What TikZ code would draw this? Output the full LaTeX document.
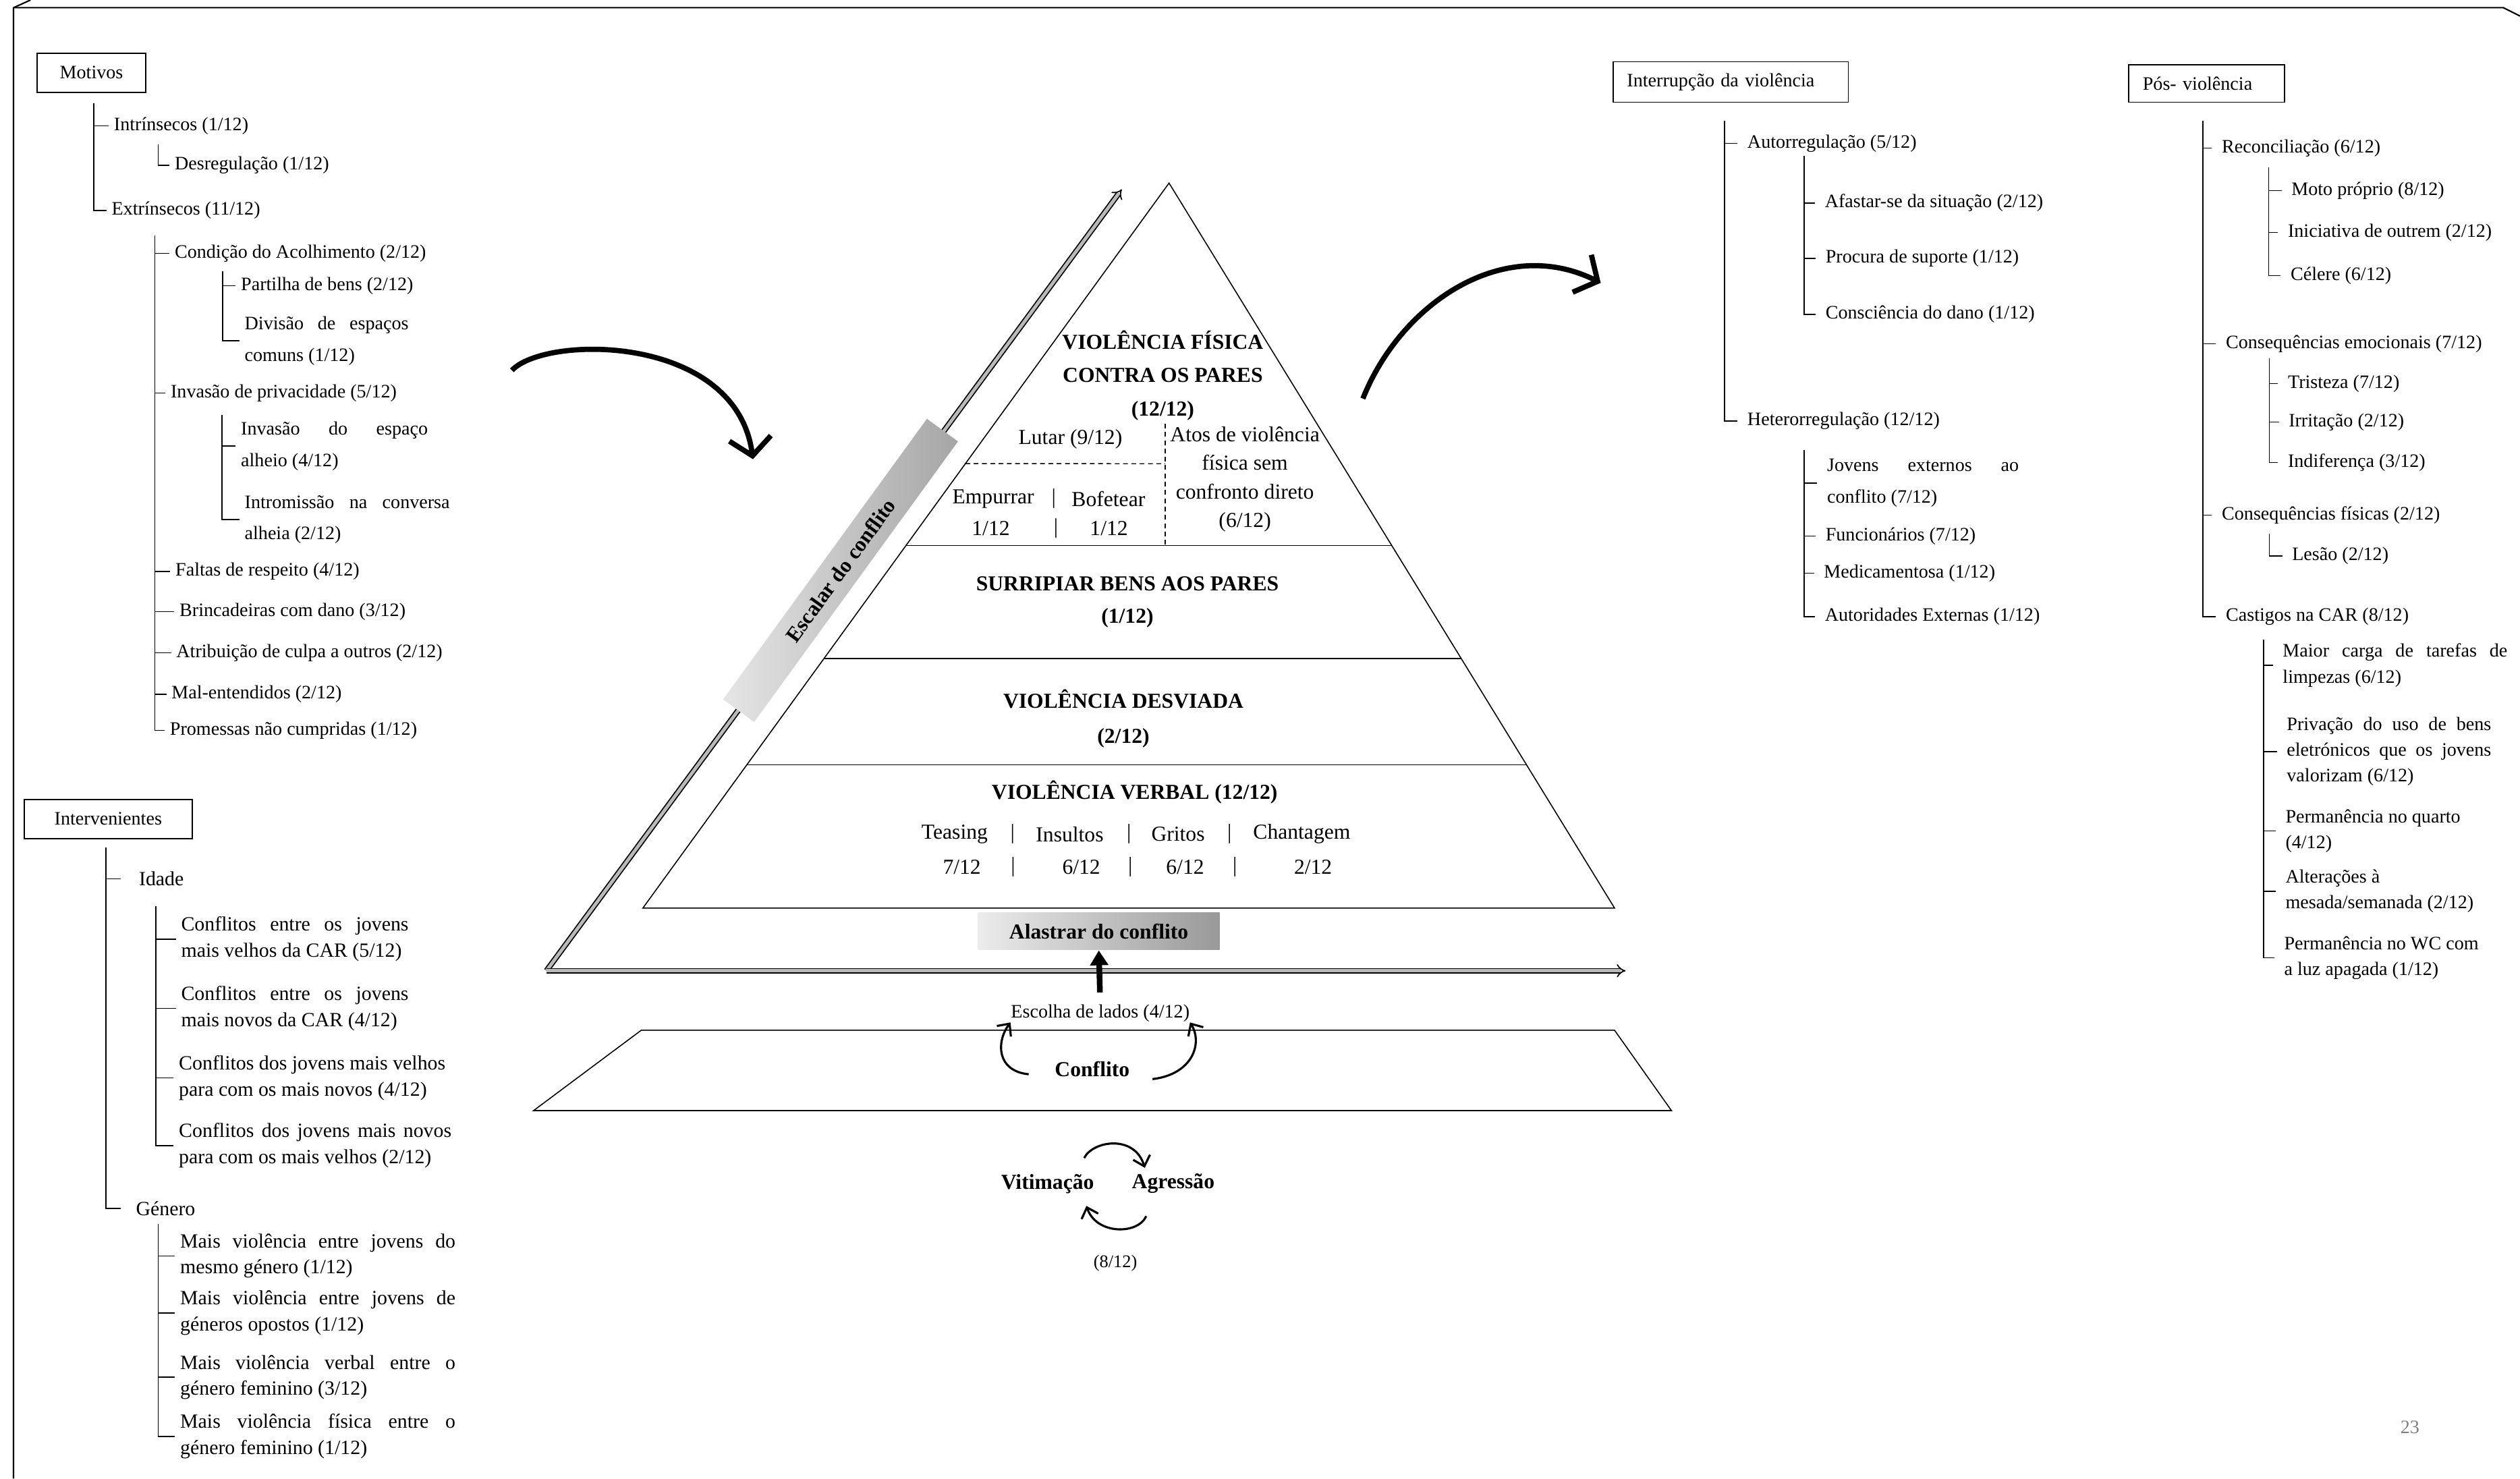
\documentclass[tikz,border=0pt]{standalone}
\usepackage{fontspec}
\setmainfont{Liberation Serif}
\usetikzlibrary{arrows.meta,calc}

\newcommand{\lignej}[2]{\makebox[#1][s]{#2}}

\tikzset{
  cadre/.style={draw, line width=0.5pt, inner ysep=0pt, font=\fontsize{8}{10}\selectfont},
  ramo/.style={line width=0.4pt},
  item/.style={anchor=west, align=left, inner xsep=2pt, inner ysep=0pt,
    font=\fontsize{8}{13.3}\selectfont},
  itemI/.style={item, font=\fontsize{8.5}{11}\selectfont},
  itemD/.style={item, inner xsep=4pt},
  itemC/.style={itemD, font=\fontsize{8}{10.9}\selectfont},
  pyr/.style={align=center, inner sep=0pt, font=\fontsize{9}{12}\selectfont},
  pyrgras/.style={align=center, inner sep=0pt, font=\fontsize{9}{14.1}\selectfont\bfseries},
  ligne/.style={line width=0.45pt},
  pointille/.style={line width=0.4pt, dash pattern=on 2pt off 1.5pt},
  fleche/.style={line width=0.5pt, double=gray!55, double distance=1.4pt, -{Implies}},
  courbe/.style={line width=2.2pt, -{Straight Barb[length=2.6mm,width=6.2mm]}},
  boucle/.style={line width=0.9pt, -{Straight Barb[length=1.4mm,width=2.6mm]}},
  montee/.style={line width=2.4pt, -{Triangle[length=2.2mm,width=2.6mm]}},
  barre/.style={inner sep=0pt, left color=gray!20, right color=gray!70,
    font=\fontsize{9}{11}\selectfont\bfseries},
}

\begin{document}
\begin{tikzpicture}[x=0.2382mm, y=-0.2382mm]
\useasboundingbox (0,0) rectangle (1568,920);

% bordure de la page
\draw[line width=0.6pt] (19,0) -- (8.4,4.8) -- (8.4,920);
\draw[line width=0.6pt] (8.4,4.8) -- (1557.6,4.8) -- (1568,10);

% arbre des motivos
\node[cadre, minimum width=16.1mm, minimum height=5.8mm] (motivos) at (56.9,45.2) {Motivos};
\coordinate (m1) at (58.3,64.3);
\coordinate (m2) at (98.4,90);
\coordinate (m3) at (96.4,146.4);
\coordinate (m4) at (138.6,168.9);
\coordinate (m5) at (138.2,258.2);
\node[item] (intr) at (67.7,78.3) {Intrínsecos (1/12)};
\node[item] (desr) at (105.5,102.9) {Desregulação (1/12)};
\node[item] (extr) at (66.3,131) {Extrínsecos (11/12)};
\node[item] (acol) at (105.5,157.6) {Condição do Acolhimento (2/12)};
\node[item] (part) at (146.7,177.7) {Partilha de bens (2/12)};
\node[item] (divi) at (149,212) {\lignej{24.3mm}{Divisão de espaços}\\comuns (1/12)};
\node[item] (priv) at (103,244.5) {Invasão de privacidade (5/12)};
\node[item] (espa) at (146.7,277.5) {\lignej{27.7mm}{Invasão do espaço}\\alheio (4/12)};
\node[item] (intm) at (149,323.3) {\lignej{30.4mm}{Intromissão na conversa}\\alheia (2/12)};
\node[item] (falt) at (106,355.6) {Faltas de respeito (4/12)};
\node[item] (brin) at (108.5,380.5) {Brincadeiras com dano (3/12)};
\node[item] (culp) at (106.5,406.2) {Atribuição de culpa a outros (2/12)};
\node[item] (malt) at (103.5,432) {Mal-entendidos (2/12)};
\node[item] (prom) at (102.5,454.5) {Promessas não cumpridas (1/12)};
\draw[ramo] (m1 |- intr.west) -- (intr.west);
\draw[ramo] (m1) |- (extr.west);
\draw[ramo] (m2) |- (desr.west);
\foreach \n in {acol,priv,falt,brin,culp,malt}
  \draw[ramo] (m3 |- \n.west) -- (\n.west);
\draw[ramo] (m3) |- (prom.west);
\draw[ramo] (m4 |- part.west) -- (part.west);
\draw[ramo] (m4) |- (divi.west);
\draw[ramo] (m5 |- espa.west) -- (espa.west);
\draw[ramo] (m5) |- (intm.west);

% arbre des intervenientes
\node[cadre, minimum width=24.9mm, minimum height=5.8mm] (interv) at (67.3,509.5) {Intervenientes};
\coordinate (t1) at (65.9,527.4);
\coordinate (t2) at (97,563.6);
\coordinate (t3) at (98.4,761.5);
\node[itemI, inner xsep=7.4pt] (idade) at (75.3,546.9) {Idade};
\node[itemI, inner xsep=6.1pt] (genero) at (75.3,751.8) {Género};
\node[itemI] (velh) at (109.5,584.3) {\lignej{33.7mm}{Conflitos entre os jovens}\\mais velhos da CAR (5/12)};
\node[itemI] (novo) at (109.5,627.5) {\lignej{33.7mm}{Conflitos entre os jovens}\\mais novos da CAR (4/12)};
\node[itemI] (vnov) at (108.1,670.7) {Conflitos dos jovens mais velhos\\para com os mais novos (4/12)};
\node[itemI] (nvel) at (108.1,712.8) {\lignej{40.4mm}{Conflitos dos jovens mais novos}\\para com os mais velhos (2/12)};
\node[itemI] (mesm) at (108.9,781.4) {\lignej{40.8mm}{Mais violência entre jovens do}\\mesmo género (1/12)};
\node[itemI] (opos) at (108.9,817) {\lignej{40.8mm}{Mais violência entre jovens de}\\géneros opostos (1/12)};
\node[itemI] (verb) at (108.9,856.9) {\lignej{40.8mm}{Mais violência verbal entre o}\\género feminino (3/12)};
\node[itemI] (fisi) at (108.9,893.7) {\lignej{40.8mm}{Mais violência física entre o}\\género feminino (1/12)};
\draw[ramo] (t1 |- idade.west) -- (idade.west);
\draw[ramo] (t1) |- (genero.west);
\foreach \n in {velh,novo,vnov}
  \draw[ramo] (t2 |- \n.west) -- (\n.west);
\draw[ramo] (t2) |- (nvel.west);
\foreach \n in {mesm,opos,verb}
  \draw[ramo] (t3 |- \n.west) -- (\n.west);
\draw[ramo] (t3) |- (fisi.west);

% arbre interruption
\node[cadre, text width=30.75mm, inner xsep=2.05mm, minimum height=6mm, align=left] (interr) at (1076.9,51) {Interrupção da violência};
\coordinate (r1) at (1073,75.2);
\coordinate (r2) at (1122.6,96.9);
\coordinate (r3) at (1122.6,280);
\node[itemD] (auto) at (1081.1,89.2) {Autorregulação (5/12)};
\node[itemD] (hete) at (1081.1,262) {Heterorregulação (12/12)};
\node[itemD] (afas) at (1129.3,126.3) {Afastar-se da situação (2/12)};
\node[itemD] (supo) at (1129.7,160.8) {Procura de suporte (1/12)};
\node[itemD] (dano) at (1129.7,195.7) {Consciência do dano (1/12)};
\node[itemD] (jove) at (1130.7,300.5) {\lignej{28.4mm}{Jovens externos ao}\\conflito (7/12)};
\node[itemD] (func) at (1129.7,333.5) {Funcionários (7/12)};
\node[itemD] (medi) at (1128.7,356.7) {Medicamentosa (1/12)};
\node[itemD] (exte) at (1129.3,383.7) {Autoridades Externas (1/12)};
\draw[ramo] (r1 |- auto.west) -- (auto.west);
\draw[ramo] (r1) |- (hete.west);
\foreach \n in {afas,supo}
  \draw[ramo] (r2 |- \n.west) -- (\n.west);
\draw[ramo] (r2) |- (dano.west);
\foreach \n in {jove,func,medi}
  \draw[ramo] (r3 |- \n.west) -- (\n.west);
\draw[ramo] (r3) |- (exte.west);

% arbre post-violence
\node[cadre, text width=18.9mm, inner xsep=2.1mm, minimum height=5.55mm, align=left] (posv) at (1372.9,52) {Pós- violência};
\coordinate (p1) at (1370.6,75.2);
\coordinate (p2) at (1411.6,104.2);
\coordinate (p3) at (1411.9,223);
\coordinate (p4) at (1411.9,331.9);
\coordinate (p5) at (1408.5,397.9);
\node[itemD] (reco) at (1376.3,92.1) {Reconciliação (6/12)};
\node[itemD] (emoc) at (1378.8,213.8) {Consequências emocionais (7/12)};
\node[itemD] (fisc) at (1376.3,320.6) {Consequências físicas (2/12)};
\node[itemD] (cast) at (1378.8,383.7) {Castigos na CAR (8/12)};
\node[itemD] (moto) at (1419.6,118.6) {Moto próprio (8/12)};
\node[itemD] (inic) at (1417.4,144.6) {Iniciativa de outrem (2/12)};
\node[itemD] (cele) at (1419.1,171.6) {Célere (6/12)};
\node[itemD] (tris) at (1417.4,238.6) {Tristeza (7/12)};
\node[itemD] (irri) at (1417.9,262.7) {Irritação (2/12)};
\node[itemD] (indi) at (1417.4,287.8) {Indiferença (3/12)};
\node[itemD] (lesa) at (1420,345.9) {Lesão (2/12)};
\node[itemC] (limp) at (1414.2,414) {\lignej{33.3mm}{Maior carga de tarefas de}\\limpezas (6/12)};
\node[itemC] (bens) at (1416.7,467.6) {\lignej{30.3mm}{Privação do uso de bens}\\\lignej{30.3mm}{eletrónicos que os jovens}\\valorizam (6/12)};
\node[itemC] (quar) at (1415.9,517) {Permanência no quarto\\(4/12)};
\node[itemC] (mesa) at (1415.9,554.5) {Alterações à\\mesada/semanada (2/12)};
\node[itemC] (wclu) at (1415.1,596) {Permanência no WC com\\a luz apagada (1/12)};
\foreach \n in {reco,emoc,fisc}
  \draw[ramo] (p1 |- \n.west) -- (\n.west);
\draw[ramo] (p1) |- (cast.west);
\foreach \n in {moto,inic}
  \draw[ramo] (p2 |- \n.west) -- (\n.west);
\draw[ramo] (p2) |- (cele.west);
\foreach \n in {tris,irri}
  \draw[ramo] (p3 |- \n.west) -- (\n.west);
\draw[ramo] (p3) |- (indi.west);
\draw[ramo] (p4) |- (lesa.west);
\foreach \n in {limp,bens,quar,mesa}
  \draw[ramo] (p5 |- \n.west) -- (\n.west);
\draw[ramo] (p5) |- (wclu.west);

% pyramide
\coordinate (topo) at (727.4,113.9);
\coordinate (baseE) at (400,565);
\coordinate (baseD) at (1004.6,565);
\draw[ligne] (baseE) -- (topo) -- (baseD) -- cycle;
\foreach \t in {0.5,0.656,0.8023}
  \draw[ligne] ($(topo)!\t!(baseE)$) -- ($(topo)!\t!(baseD)$);
\coordinate (lutE) at ($(topo)!0.387!(baseE)$);
\coordinate (lutD) at (725,288.5);
\coordinate (atoH) at (725,263.6);
\coordinate (atoB) at (725,339.5);
\draw[pointille] (lutE) -- (lutD);
\draw[pointille] (atoH) -- (atoB);

\node[pyrgras] (fisica) at (723.5,233.6) {VIOLÊNCIA FÍSICA\\CONTRA OS PARES\\(12/12)};
\node[pyr] (lutar) at (666,273.3) {Lutar (9/12)};
\node[pyr] (atos) at (774.6,298.2) {Atos de violência\\física sem\\confronto direto\\(6/12)};
\foreach \x/\t [count=\i] in {618/Empurrar, 655.6/|, 689.7/Bofetear}
  \node[pyr] (emp\i) at (\x,310.3) {\t};
\foreach \x/\t [count=\i] in {616.5/{1/12}, 657/|, 690/{1/12}}
  \node[pyr] (empn\i) at (\x,328.7) {\t};
\node[pyrgras, font=\fontsize{9}{13.8}\selectfont\bfseries] (surr) at (701.5,374.7) {SURRIPIAR BENS AOS PARES\\(1/12)};
\node[pyrgras, font=\fontsize{9}{14.6}\selectfont\bfseries] (desv) at (699,447.2) {VIOLÊNCIA DESVIADA\\(2/12)};
\node[pyrgras] (verbal) at (706,493.1) {VIOLÊNCIA VERBAL (12/12)};
\foreach \x/\t [count=\i] in {594/Teasing, 630/|, 665.6/Insultos, 702.5/|, 733/Gritos, 765/|, 810/Chantagem}
  \node[pyr] (vb\i) at (\x,519) {\t};
\foreach \x/\t [count=\i] in {598.5/{7/12}, 630.4/|, 672.8/{6/12}, 703.3/|, 737.4/{6/12}, 768.4/|, 817/{2/12}}
  \node[pyr] (vn\i) at (\x,539.4) {\t};

% fleches d'escalade et d'alastramento
\coordinate (coin) at (340,604);
\coordinate (finE) at (698,117.8);
\coordinate (finH) at (1011.5,604);
\draw[fleche] (coin) -- (finE);
\draw[fleche] (coin) -- (finH);
\node[barre, rotate=54, minimum width=51.4mm, minimum height=5.7mm] (escalar) at (523,354.9) {Escalar do conflito};
\node[barre, left color=gray!15, right color=gray!80, minimum width=35.8mm, minimum height=5.5mm] (alastrar) at (683.7,579.5) {Alastrar do conflito};

% grandes fleches courbes
\coordinate (cg1) at (318.5,230.4);
\coordinate (cg2) at (468.5,285.7);
\draw[courbe] (cg1) .. controls (340,208) and (458,208) .. (cg2);
\coordinate (cd1) at (848,248);
\coordinate (cd2) at (996,176);
\draw[courbe] (cd1) .. controls (872,188) and (936,146) .. (cd2);

% base du conflit
\coordinate (tz1) at (399,641);
\coordinate (tz2) at (1004.6,641);
\coordinate (tz3) at (1040,691);
\coordinate (tz4) at (332,691);
\draw[ligne] (tz1) -- (tz2) -- (tz3) -- (tz4) -- cycle;
\node[pyr, font=\fontsize{8}{10}\selectfont] (escolha) at (684.6,630.5) {Escolha de lados (4/12)};
\node[pyrgras] (conflito) at (679.6,665.4) {Conflito};
\draw[montee, shorten <=5pt] (escolha.north) -- (alastrar.south);
\draw[boucle] ([shift={(-16,3)}]conflito.west) .. controls +(-20,-2) and +(-9,12) .. (escolha.south west);
\draw[boucle] ([shift={(14,6)}]conflito.east) .. controls +(25,-3) and +(8,13) .. (escolha.south east);

% cycle vitimacao / agressao
\node[pyrgras] (vitima) at (651.8,736.5) {Vitimação};
\node[pyrgras] (agressao) at (730,736.5) {Agressão};
\draw[boucle] ([shift={(-6.4,-9.7)}]vitima.north east) .. controls +(5.4,-10.8) and +(-6.4,-21) .. ([shift={(8.3,-3.5)}]agressao.north west);
\draw[boucle] ([shift={(9.2,13.8)}]agressao.south west) .. controls +(-5.3,11.7) and +(6,18) .. ([shift={(-5,7.5)}]vitima.south east);
\node[pyr, font=\fontsize{7.5}{9}\selectfont] (oito) at (694,786) {(8/12)};

% numero de page
\node[text=gray, inner sep=0pt, font=\fontsize{8}{10}\selectfont] (pagina) at (1499.5,887.9) {23};
\end{tikzpicture}
\end{document}
